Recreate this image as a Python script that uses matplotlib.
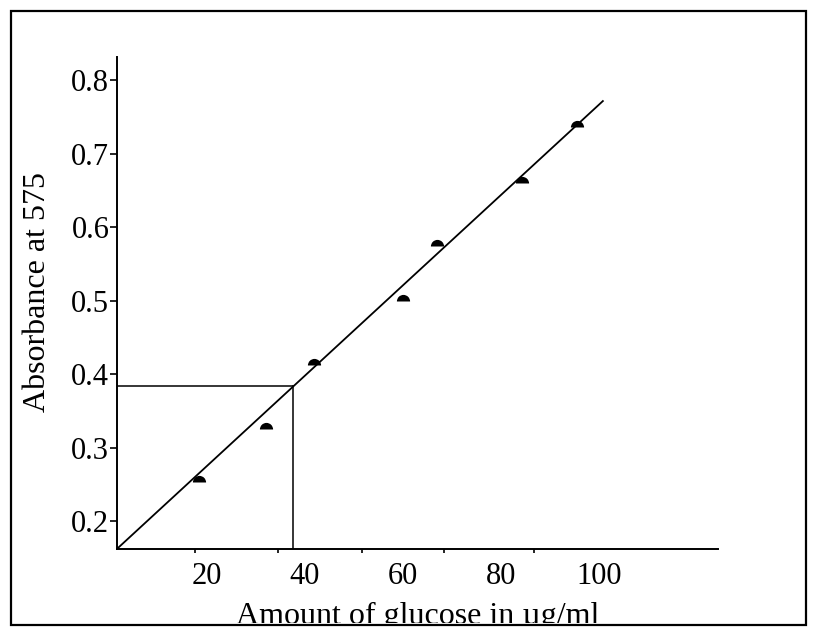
import numpy as np
import matplotlib
matplotlib.use('Agg')
import matplotlib.pyplot as plt
from matplotlib.patches import Rectangle

plt.rcParams['font.family'] = ['Liberation Serif', 'DejaVu Serif']

# standard points (glucose ug/ml, absorbance)
conc = [18.4, 32.0, 41.8, 60.0, 66.9, 84.3, 95.5]
absorb = [0.253, 0.326, 0.413, 0.500, 0.575, 0.660, 0.736]

# calibration line as drawn
fit_x = [1.6, 100.8]
fit_y = [0.162, 0.772]

# unknown sample
sample_abs = 0.384
sample_conc = 37.6

xticks = [20, 40, 60, 80, 100]
xminor = [17.55, 34.5, 51.7, 68.4, 86.7]
yticks = [0.2, 0.3, 0.4, 0.5, 0.6, 0.7, 0.8]

fig = plt.figure(figsize=(8.16, 6.32), dpi=100)
ax = fig.add_axes([117/816, 83/632, 601/816, 492/632])

xlo, xhi = 1.63, 124.3
ylo, yhi = 0.162, 0.832

ax.plot(fit_x, fit_y, color='black', lw=1.3)
ax.plot(conc, absorb, linestyle='none', marker='o', fillstyle='top',
        markersize=9.5, mfc='black', mec='none')
ax.plot([xlo, sample_conc], [sample_abs, sample_abs], color='black', lw=1.1)
ax.plot([sample_conc, sample_conc], [ylo, sample_abs], color='black', lw=1.1)

ax.set_xlim(xlo, xhi)
ax.set_ylim(ylo, yhi)

for s in ['top', 'right']:
    ax.spines[s].set_visible(False)
for s in ['left', 'bottom']:
    ax.spines[s].set_linewidth(1.4)

ax.set_xticks(xticks)
ax.set_xticklabels([str(v) for v in xticks])
ax.set_xticks(xminor, minor=True)
ax.tick_params(axis='x', which='major', length=0, pad=9, labelsize=22)
ax.tick_params(axis='x', which='minor', length=3, width=1.2, direction='out')
ax.set_yticks(yticks)
ax.set_yticklabels(['%.1f' % v for v in yticks])
ax.tick_params(axis='y', which='major', length=5, width=1.2, pad=0.5, labelsize=22)

ax.set_xlabel('Amount of glucose in \u00b5g/ml', fontsize=23)
ax.xaxis.set_label_coords(0.5, -0.107)
ax.set_ylabel('Absorbance at 575', fontsize=23)
ax.yaxis.set_label_coords(-0.108, 0.522)

# white strip that cuts the bottom of the x label, then the outer frame
fig.patches.append(Rectangle((0, 0), 1, 9/632, transform=fig.transFigure,
                             facecolor='white', edgecolor='none', zorder=10))
fig.patches.append(Rectangle((11/816, 7/632), 795/816, 614/632,
                             transform=fig.transFigure, facecolor='none',
                             edgecolor='black', lw=1.6, zorder=11))

fig.savefig('out.png', dpi=100)
